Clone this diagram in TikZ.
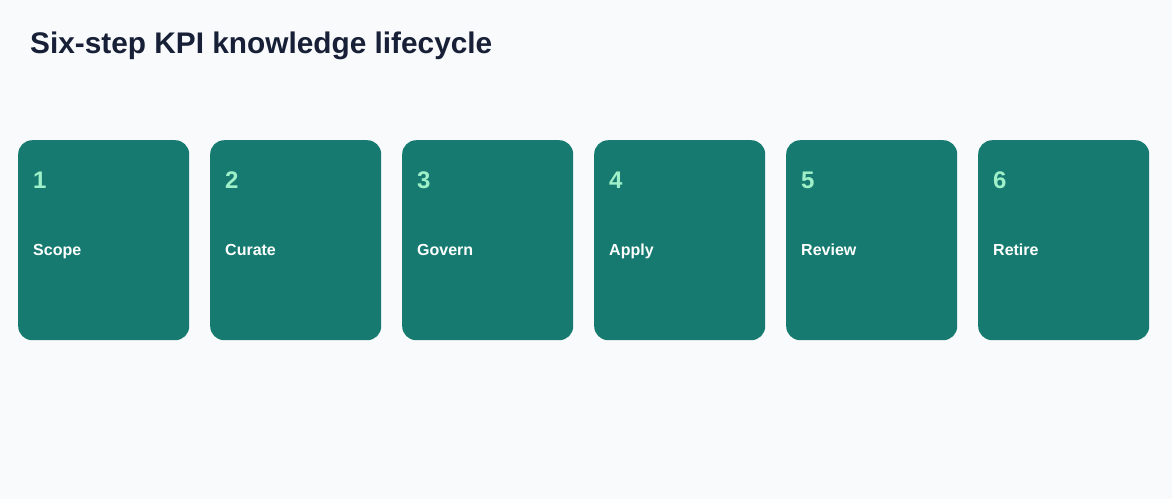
\documentclass[tikz,border=0pt]{standalone}
\usepackage{fontspec}
\setmainfont{Liberation Sans}
\definecolor{bg}{HTML}{F8FAFC}
\definecolor{card}{HTML}{167A70}
\definecolor{mint}{HTML}{9EF0C8}
\definecolor{ink}{HTML}{172036}
\tikzset{
  stepcard/.style={fill=card, draw=none, rounded corners=14pt, minimum width=171pt, minimum height=200pt, anchor=north west, inner sep=0pt},
  stepnum/.style={anchor=base west, text=mint, font=\bfseries\fontsize{24}{28}\selectfont, inner sep=0pt},
  steplabel/.style={anchor=base west, text=white, font=\bfseries\fontsize{16}{19}\selectfont, inner sep=0pt},
}
\begin{document}
\begin{tikzpicture}[x=1pt,y=-1pt]
\fill[bg] (0,0) rectangle (1172,499);
\useasboundingbox (0,0) rectangle (1172,499);
\node[anchor=base west, text=ink, font=\bfseries\fontsize{29.8}{34}\selectfont, inner sep=0pt] (title) at (30,53) {Six-step KPI knowledge lifecycle};
\foreach \i/\t in {1/Scope,2/Curate,3/Govern,4/Apply,5/Review,6/Retire}{
  \pgfmathsetmacro{\xx}{18+192*(\i-1)}
  \node[stepcard] (card\i) at (\xx,140) {};
  \node[stepnum] (num\i) at (\xx+15,188) {\i};
  \node[steplabel] (lab\i) at (\xx+15,255) {\t};
}
\end{tikzpicture}
\end{document}
